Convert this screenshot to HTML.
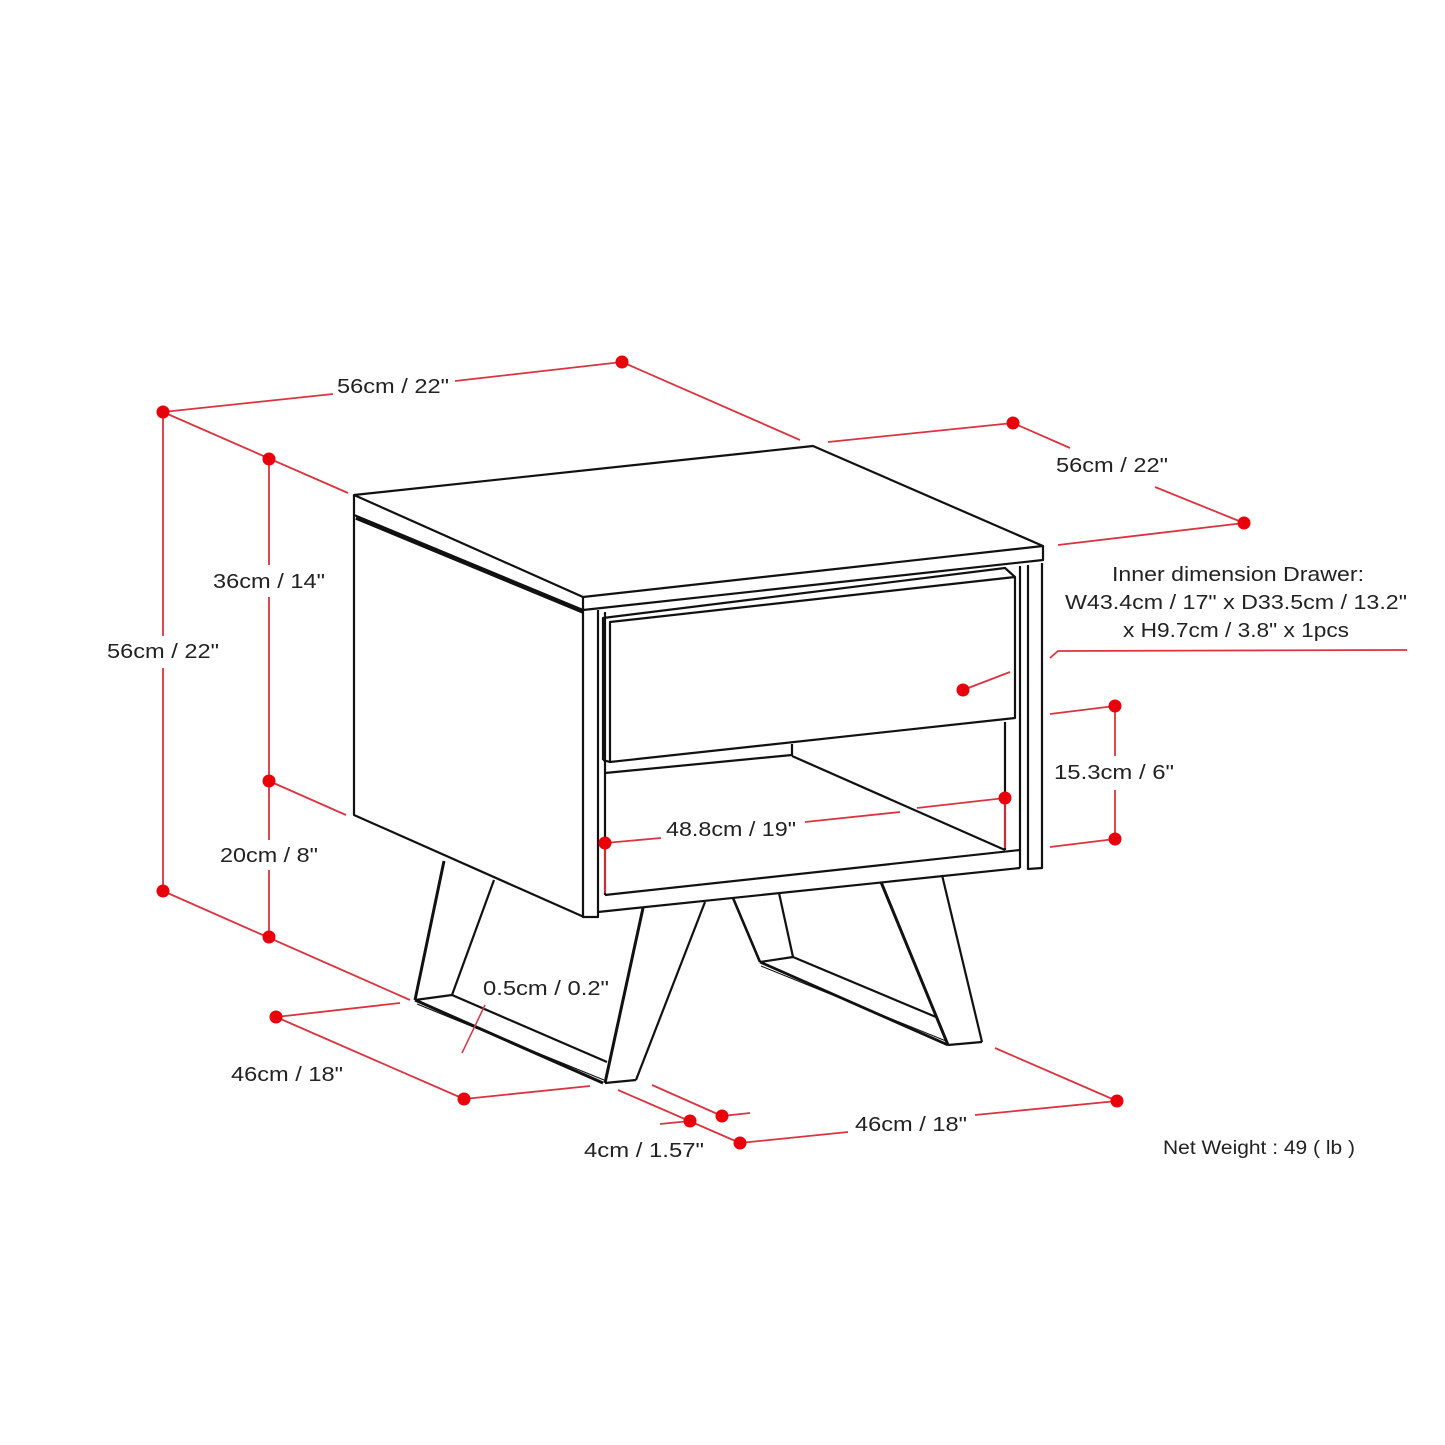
<!DOCTYPE html>
<html><head><style>html,body{margin:0;padding:0;background:#fff}svg{display:block}</style></head>
<body>
<svg width="1445" height="1445" viewBox="0 0 1445 1445" xmlns="http://www.w3.org/2000/svg">
<rect width="1445" height="1445" fill="#fff"/>
<g fill="none" stroke="#111" stroke-width="2.2" stroke-linejoin="round">
<!-- top -->
<polygon points="354,495 813,446 1043,546 583,597"/>
<polyline points="354,495 354,515 583,610 1043,560 1043,546"/>
<line x1="583" y1="597" x2="583" y2="610"/>
<line x1="356" y1="518" x2="583" y2="612" stroke-width="3.5"/>
<!-- left side -->
<polyline points="354,515 354,815 584,917"/>
<!-- left post -->
<polyline points="583,610 583,917 598,917 598,610"/>
<line x1="605" y1="612" x2="605" y2="895"/>
<!-- right post -->
<polyline points="1042,563 1042,868 1028,869 1028,565"/>
<line x1="1020" y1="566" x2="1020" y2="868"/>
<!-- drawer -->
<polyline points="603,760 603,618 1005,568 1015,577"/>
<polygon points="610,622 1015,577 1015,718 610,762"/>
<line x1="603" y1="760" x2="610" y2="762"/>
<!-- shelf -->
<polyline points="605,773 792,755 792,744"/>
<line x1="792" y1="756" x2="1005" y2="850"/>
<line x1="1005" y1="722" x2="1005" y2="850"/>
<line x1="605" y1="895" x2="1020" y2="850"/>
<line x1="598" y1="912" x2="1020" y2="868"/>
<!-- left back leg -->
<line x1="444" y1="861" x2="415" y2="1000" stroke-width="3"/>
<line x1="494" y1="880" x2="452" y2="995"/>
<line x1="415" y1="1000" x2="452" y2="995"/>
<line x1="452" y1="995" x2="607" y2="1062"/>
<line x1="415" y1="1000" x2="603" y2="1083" stroke-width="3"/>
<line x1="417" y1="1004" x2="604" y2="1080" stroke-width="1.2"/>
<!-- left front leg -->
<line x1="643" y1="908" x2="605" y2="1083" stroke-width="3"/>
<line x1="705" y1="902" x2="636" y2="1080"/>
<line x1="605" y1="1083" x2="636" y2="1080"/>
<!-- right back leg -->
<line x1="733" y1="898" x2="760" y2="962" stroke-width="2.6"/>
<line x1="779" y1="893" x2="793" y2="957"/>
<line x1="760" y1="962" x2="793" y2="957"/>
<line x1="760" y1="962" x2="948" y2="1045" stroke-width="2.8"/>
<line x1="761" y1="966" x2="946" y2="1041" stroke-width="1"/>
<line x1="793" y1="957" x2="936" y2="1017"/>
<!-- right front leg -->
<line x1="881" y1="882" x2="948" y2="1045" stroke-width="3"/>
<line x1="942" y1="875" x2="982" y2="1042"/>
<line x1="948" y1="1045" x2="982" y2="1042"/>
</g>
<g stroke="#d9343f" stroke-width="1.8" fill="none">
<line x1="163" y1="412" x2="333" y2="394"/>
<line x1="455" y1="381" x2="622" y2="362"/>
<line x1="622" y1="362" x2="800" y2="440"/>
<line x1="828" y1="442" x2="1013" y2="423"/>
<line x1="1013" y1="423" x2="1070" y2="448"/>
<line x1="1155" y1="487" x2="1244" y2="523"/>
<line x1="1244" y1="523" x2="1058" y2="545"/>
<line x1="163" y1="412" x2="348" y2="493"/>
<line x1="163" y1="412" x2="163" y2="636"/>
<line x1="163" y1="668" x2="163" y2="891"/>
<line x1="269" y1="459" x2="269" y2="565"/>
<line x1="269" y1="597" x2="269" y2="781"/>
<line x1="269" y1="781" x2="269" y2="840"/>
<line x1="269" y1="870" x2="269" y2="937"/>
<line x1="269" y1="781" x2="346" y2="815"/>
<line x1="163" y1="891" x2="410" y2="1000"/>
<line x1="276" y1="1017" x2="400" y2="1003"/>
<line x1="276" y1="1017" x2="464" y2="1099"/>
<line x1="464" y1="1099" x2="590" y2="1086"/>
<line x1="618" y1="1090" x2="740" y2="1143"/>
<line x1="652" y1="1085" x2="722" y2="1116"/>
<line x1="722" y1="1116" x2="750" y2="1113"/>
<line x1="660" y1="1124" x2="690" y2="1121"/>
<line x1="740" y1="1143" x2="848" y2="1132"/>
<line x1="975" y1="1115" x2="1117" y2="1101"/>
<line x1="1117" y1="1101" x2="995" y2="1048"/>
<line x1="462" y1="1053" x2="485" y2="1005" stroke-width="1.5"/>
<line x1="1115" y1="706" x2="1115" y2="756"/>
<line x1="1115" y1="790" x2="1115" y2="839"/>
<line x1="1050" y1="714" x2="1115" y2="706"/>
<line x1="1050" y1="847" x2="1115" y2="839"/>
<polyline points="1050,658 1058,651 1407,650"/>
<line x1="963" y1="690" x2="1010" y2="672"/>
<line x1="605" y1="843" x2="661" y2="838"/>
<line x1="805" y1="822" x2="900" y2="812"/>
<line x1="917" y1="808" x2="1005" y2="798"/>
<line x1="605" y1="843" x2="605" y2="893"/>
<line x1="1005" y1="798" x2="1005" y2="848"/>
</g>
<g fill="#e8000b">
<circle cx="163" cy="412" r="6.5"/><circle cx="622" cy="362" r="6.5"/>
<circle cx="1013" cy="423" r="6.5"/><circle cx="1244" cy="523" r="6.5"/>
<circle cx="269" cy="459" r="6.5"/><circle cx="269" cy="781" r="6.5"/>
<circle cx="163" cy="891" r="6.5"/><circle cx="269" cy="937" r="6.5"/>
<circle cx="276" cy="1017" r="6.5"/><circle cx="464" cy="1099" r="6.5"/>
<circle cx="690" cy="1121" r="6.5"/><circle cx="722" cy="1116" r="6.5"/>
<circle cx="740" cy="1143" r="6.5"/><circle cx="1117" cy="1101" r="6.5"/>
<circle cx="1115" cy="706" r="6.5"/><circle cx="1115" cy="839" r="6.5"/>
<circle cx="963" cy="690" r="6.5"/><circle cx="605" cy="843" r="6.5"/>
<circle cx="1005" cy="798" r="6.5"/>
</g>
<g font-family="Liberation Sans, sans-serif" font-size="20" fill="#222" text-anchor="middle">
<text x="393" y="393" textLength="112" lengthAdjust="spacingAndGlyphs">56cm / 22"</text>
<text x="1112" y="472" textLength="112" lengthAdjust="spacingAndGlyphs">56cm / 22"</text>
<text x="163" y="658" textLength="112" lengthAdjust="spacingAndGlyphs">56cm / 22"</text>
<text x="269" y="588" textLength="112" lengthAdjust="spacingAndGlyphs">36cm / 14"</text>
<text x="269" y="862" textLength="98" lengthAdjust="spacingAndGlyphs">20cm / 8"</text>
<text x="287" y="1081" textLength="112" lengthAdjust="spacingAndGlyphs">46cm / 18"</text>
<text x="911" y="1131" textLength="112" lengthAdjust="spacingAndGlyphs">46cm / 18"</text>
<text x="644" y="1157" textLength="120" lengthAdjust="spacingAndGlyphs">4cm / 1.57"</text>
<text x="546" y="995" textLength="126" lengthAdjust="spacingAndGlyphs">0.5cm / 0.2"</text>
<text x="731" y="836" textLength="130" lengthAdjust="spacingAndGlyphs">48.8cm / 19"</text>
<text x="1114" y="779" textLength="120" lengthAdjust="spacingAndGlyphs">15.3cm / 6"</text>
<text x="1238" y="581" textLength="252" lengthAdjust="spacingAndGlyphs">Inner dimension Drawer:</text>
<text x="1236" y="609" textLength="342" lengthAdjust="spacingAndGlyphs">W43.4cm / 17" x D33.5cm / 13.2"</text>
<text x="1236" y="637" textLength="226" lengthAdjust="spacingAndGlyphs">x H9.7cm / 3.8" x 1pcs</text>
<text x="1259" y="1154" font-size="19" textLength="192" lengthAdjust="spacingAndGlyphs">Net Weight : 49 ( lb )</text>
</g>
</svg>
</body></html>
